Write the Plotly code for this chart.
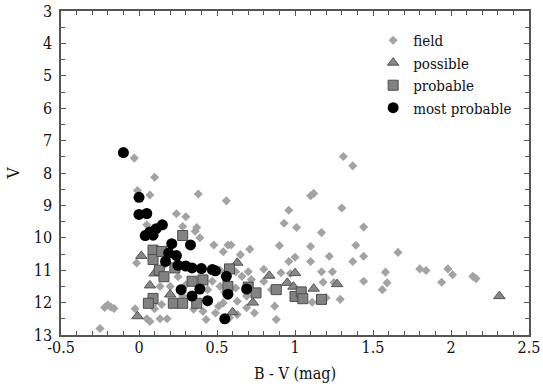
import plotly.graph_objects as go

# ---- data (B-V, V) ----
field_bv = [-0.03, 0.10, -0.01, 0.07, 0.38, 0.56, 0.24, 0.30, 0.05, 0.28, 0.37, 0.36, 0.39, 0.48,
            0.57, 0.59, 0.54, 0.65, 0.71, 0.96, 0.93, 1.01, 1.10, 1.12, 1.31, 1.37, 1.30, 1.17,
            1.44, 1.39, 1.10, 0.90, 1.00, 0.96, 1.10, 1.22, 1.37, 1.44, 1.66, 0.80, 0.91, 0.97,
            1.17, 1.24, 1.18, 1.25, 1.44, 1.58, 1.59, 1.56, 1.29, 1.11, 1.20, 1.80, 1.84, 1.98,
            2.01, 2.14, 2.16, 1.94, 0.72, 0.55, 0.69, 0.63, 0.69, 0.74, 0.87, 0.88, 0.49, 0.41,
            0.43, 0.63, 0.58, 0.51, 0.54, -0.015, 0.135, 0.10, -0.025, 0.05, 0.07, 0.135, 0.18,
            -0.25, -0.20, -0.18, -0.22, -0.16, 0.47, 0.66, 0.09, 0.145, 0.20, 0.25, 0.30, 0.15,
            0.44, 0.52, 0.35, 0.28, 0.52, 0.62, 0.70, 0.80, 0.85, 0.62]
field_v = [7.54, 8.13, 8.54, 8.68, 8.65, 8.86, 9.26, 9.35, 9.60, 9.65, 9.68, 9.80, 10.00, 10.22,
           10.22, 10.22, 10.43, 10.52, 10.35, 9.15, 9.55, 9.68, 8.70, 8.63, 7.49, 7.78, 9.08, 9.84,
           9.67, 10.23, 10.27, 10.24, 10.60, 10.73, 10.73, 10.57, 10.73, 10.57, 10.45, 10.97, 11.08, 11.10,
           11.05, 11.05, 11.37, 11.38, 11.34, 11.06, 11.39, 11.60, 11.90, 11.99, 11.85, 10.96, 11.01, 10.96,
           11.14, 11.19, 11.26, 11.37, 11.29, 11.68, 11.80, 11.96, 12.16, 12.32, 12.11, 12.52, 12.32, 12.27,
           12.52, 12.37, 12.47, 12.11, 12.01, 10.78, 11.50, 12.19, 12.19, 12.50, 12.58, 12.50, 12.50,
           12.80, 12.07, 12.14, 12.15, 12.18, 11.34, 11.19, 12.06, 12.06, 11.50, 11.20, 11.45, 10.90,
           11.60, 11.50, 12.20, 11.80, 11.00, 11.05, 11.05, 11.35, 11.60, 11.55]

possible_bv = [0.015, 0.10, 0.07, 0.20, -0.01, 0.63, 0.835, 1.00, 0.95, 0.99, 1.12, 1.27, 0.73, 0.60, 2.31]
possible_v = [10.56, 11.10, 11.47, 11.75, 12.42, 10.77, 11.17, 11.09, 11.39, 11.51, 11.57, 11.43, 12.00, 12.30, 11.80]

probable_bv = [0.09, 0.09, 0.145, 0.28, 0.13, 0.16, 0.09, 0.06, 0.22, 0.28, 0.37, 0.23, 0.34, 0.41,
               0.58, 0.57, 0.70, 0.75, 0.88, 1.00, 1.04, 1.05, 1.17]
probable_v = [10.38, 10.67, 10.42, 9.93, 11.00, 11.20, 11.87, 12.02, 12.02, 12.02, 12.02, 10.93, 11.34, 11.30,
              10.96, 11.50, 11.52, 11.70, 11.60, 11.81, 11.67, 11.88, 11.90]

most_bv = [-0.10, 0.00, 0.00, 0.05, 0.15, 0.11, 0.07, 0.04, 0.09, 0.21, 0.33, 0.19, 0.24, 0.17, 0.25,
           0.30, 0.34, 0.40, 0.47, 0.49, 0.56, 0.27, 0.34, 0.39, 0.44, 0.57, 0.69, 0.55]
most_v = [7.37, 8.75, 9.28, 9.25, 9.60, 9.72, 9.82, 9.93, 9.92, 10.18, 10.22, 10.47, 10.55, 10.73, 10.85,
          10.87, 10.93, 10.95, 10.98, 11.02, 11.19, 11.60, 11.80, 11.58, 11.94, 11.74, 11.58, 12.50]

x_ticks = [-0.5, 0, 0.5, 1, 1.5, 2, 2.5]
x_tick_labels = ["-0.5", "0", "0.5", "1", "1.5", "2", "2.5"]
y_ticks = [3, 4, 5, 6, 7, 8, 9, 10, 11, 12, 13]

FONT = "DejaVu Serif Condensed, DejaVu Serif"

fig = go.Figure()
fig.add_trace(go.Scatter(x=field_bv, y=field_v, mode="markers", name="field",
                         marker=dict(symbol="diamond", size=7, color="#a3a3a3",
                                     line=dict(width=0))))
fig.add_trace(go.Scatter(x=possible_bv, y=possible_v, mode="markers", name="possible",
                         marker=dict(symbol="triangle-up", size=10, color="#878787",
                                     line=dict(width=1, color="#555555"))))
fig.add_trace(go.Scatter(x=probable_bv, y=probable_v, mode="markers", name="probable",
                         marker=dict(symbol="square", size=10, color="#828282",
                                     line=dict(width=1, color="#4d4d4d"))))
fig.add_trace(go.Scatter(x=most_bv, y=most_v, mode="markers", name="most probable",
                         marker=dict(symbol="circle", size=11, color="#000000",
                                     line=dict(width=0))))

axis_common = dict(showgrid=False, zeroline=False, showline=True, linecolor="#555555",
                   linewidth=1.5, mirror="allticks", ticks="inside", tickcolor="#555555",
                   ticklen=5, automargin=False,
                   tickfont=dict(family=FONT, size=16, color="#111111"))

fig.update_xaxes(range=[-0.5, 2.5], tickvals=x_ticks, ticktext=x_tick_labels,
                 ticklabelstandoff=-3,
                 minor=dict(dtick=0.1, ticks="inside", ticklen=4, tickcolor="#555555"),
                 title=dict(text="B - V (mag)", font=dict(family=FONT, size=16, color="#111111"),
                            standoff=12),
                 **axis_common)
fig.update_yaxes(range=[13, 3], tickvals=y_ticks, ticklabelstandoff=4,
                 minor=dict(dtick=0.5, ticks="inside", ticklen=4, tickcolor="#555555"),
                 title=dict(text="V", font=dict(family=FONT, size=17, color="#111111"),
                            standoff=10),
                 **axis_common)

fig.update_layout(
    width=543, height=386,
    margin=dict(l=61, r=14, t=11, b=51),
    paper_bgcolor="white", plot_bgcolor="white",
    showlegend=True,
    legend=dict(x=0.667, y=0.96, xanchor="left", yanchor="top",
                font=dict(family=FONT, size=15, color="#111111"),
                bgcolor="rgba(0,0,0,0)", itemsizing="trace", tracegroupgap=0),
)

fig.write_html("out.html")
